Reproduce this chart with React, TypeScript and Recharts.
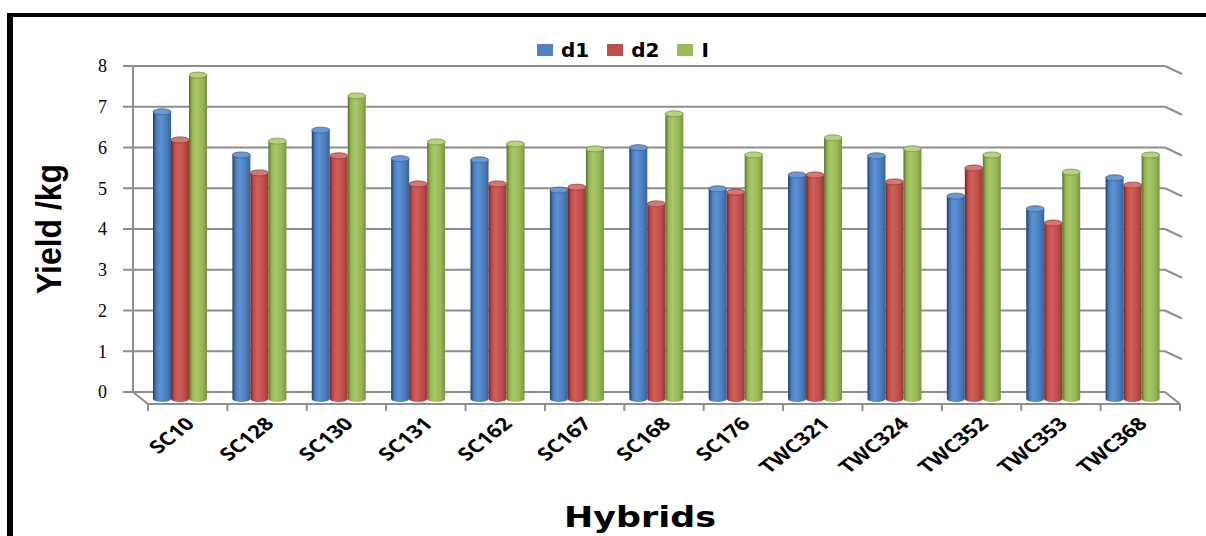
import React from 'react';
import { BarChart, Bar, XAxis, YAxis, CartesianGrid, Legend } from 'recharts';

// Hybrid names along the category axis
const categories = [
  'SC10', 'SC128', 'SC130', 'SC131', 'SC162', 'SC167', 'SC168',
  'SC176', 'TWC321', 'TWC324', 'TWC352', 'TWC353', 'TWC368',
];

// Yield (kg) per hybrid for each treatment
const d1Values = [6.95, 5.89, 6.5, 5.8, 5.77, 5.03, 6.07, 5.06, 5.4, 5.87, 4.88, 4.57, 5.33];
const d2Values = [6.26, 5.45, 5.87, 5.18, 5.18, 5.1, 4.69, 4.98, 5.4, 5.23, 5.57, 4.22, 5.15];
const iValues = [7.85, 6.23, 7.34, 6.21, 6.16, 6.04, 6.9, 5.89, 6.31, 6.04, 5.89, 5.47, 5.89];

const yTicks = [0, 1, 2, 3, 4, 5, 6, 7, 8];

const data = categories.map((name, i) => ({
  name,
  d1: d1Values[i],
  d2: d2Values[i],
  I: iValues[i],
}));

// Chart geometry
const W = 1206;
const H = 536;
const TOP = 66;
const RIGHT = 41;
const Y_AXIS_W = 133;
const X_AXIS_H = 144;
const PLOT_W = W - Y_AXIS_W - RIGHT;
const FLOOR_Y = H - X_AXIS_H;
const BAND = PLOT_W / categories.length;
// depth offset of the bars (mid-depth) and of the front edge of the floor
const BAR_DX = 7;
const BAR_DY = 7;
const FRONT_DX = 15;
const FRONT_DY = 12;

const GRID = '#8e8e8e';

type Tone = { key: string; base: string; dark: string; light: string; mid: string; top: string; edge: string };

const TONES: Record<string, Tone> = {
  d1: { key: 'd1', base: '#4f81bd', dark: '#1f3c66', light: '#5d93d6', mid: '#4a7dbd', top: '#6a9ad4', edge: '#3a6296' },
  d2: { key: 'd2', base: '#c0504d', dark: '#6e2422', light: '#d1605c', mid: '#c04c49', top: '#d77571', edge: '#963a38' },
  I: { key: 'I', base: '#9bbb59', dark: '#566f2a', light: '#a9c969', mid: '#97b656', top: '#b7d17f', edge: '#789440' },
};

function Cylinder(props: any) {
  const { x, y, width, height, index, tone } = props;
  if (x == null || y == null || !width || height == null) return null;
  const left = x + BAR_DX;
  const w = width;
  const rx = w / 2;
  const ry = 3;
  const top = y;
  const bottom = y + height + BAR_DY;
  const gid = `cyl-${tone.key}-${index}`;
  return (
    <g>
      <defs>
        <linearGradient id={gid} x1="0" y1="0" x2="1" y2="0">
          <stop offset="0%" stopColor={tone.dark} />
          <stop offset="18%" stopColor={tone.mid} />
          <stop offset="40%" stopColor={tone.light} />
          <stop offset="75%" stopColor={tone.mid} />
          <stop offset="100%" stopColor={tone.edge} />
        </linearGradient>
      </defs>
      <path
        d={`M ${left} ${top + ry} V ${bottom} A ${rx} ${ry} 0 0 0 ${left + w} ${bottom} V ${top + ry} Z`}
        fill={`url(#${gid})`}
      />
      <ellipse cx={left + rx} cy={top + ry} rx={rx} ry={ry} fill={tone.top} stroke={tone.edge} strokeWidth={0.8} />
    </g>
  );
}

function GridLine(props: any) {
  const { x1, y1, x2, y2 } = props;
  const isFloor = Math.abs(y1 - FLOOR_Y) < 1;
  return (
    <g key={props.key}>
      <line x1={x1} y1={y1} x2={x2} y2={y2} stroke={GRID} strokeWidth={2} />
      {isFloor ? (
        <g>
          <line x1={x1} y1={y1} x2={x1 + FRONT_DX} y2={y1 + FRONT_DY} stroke={GRID} strokeWidth={2} />
          <line x1={x1 + FRONT_DX} y1={y1 + FRONT_DY} x2={x2 + FRONT_DX} y2={y2 + FRONT_DY} stroke={GRID} strokeWidth={2} />
          <line x1={x2} y1={y2} x2={x2 + FRONT_DX} y2={y2 + FRONT_DY} stroke={GRID} strokeWidth={2} />
        </g>
      ) : (
        <line x1={x2} y1={y2} x2={x2 + 17} y2={y2 + 8} stroke={GRID} strokeWidth={2} />
      )}
    </g>
  );
}

function CategoryTick(props: any) {
  const { x, payload, index } = props;
  const cx = x + FRONT_DX;
  const fy = FLOOR_Y + FRONT_DY;
  const isLast = index === categories.length - 1;
  const ax = cx + 8;
  const ay = fy + 21;
  return (
    <g>
      <line x1={cx - BAND / 2} y1={fy} x2={cx - BAND / 2} y2={fy + 7} stroke={GRID} strokeWidth={2} />
      {isLast && <line x1={cx + BAND / 2} y1={fy} x2={cx + BAND / 2} y2={fy + 7} stroke={GRID} strokeWidth={2} />}
      <text
        x={0}
        y={0}
        textAnchor="end"
        transform={`translate(${ax} ${ay}) scale(1.25 1) rotate(-45)`}
        fontFamily="'Open Sans', 'DejaVu Sans', sans-serif"
        fontWeight={700}
        fontSize={18}
        fill="#000"
      >
        {payload.value}
      </text>
    </g>
  );
}

function LegendBox() {
  const items = [
    { label: 'd1', color: TONES.d1.base },
    { label: 'd2', color: TONES.d2.base },
    { label: 'I', color: TONES.I.base },
  ];
  return (
    <div style={{ display: 'flex', alignItems: 'center', fontFamily: "'DejaVu Sans', sans-serif", fontWeight: 700, fontSize: 20, color: '#000', lineHeight: '22px' }}>
      {items.map((it) => (
        <div key={it.label} style={{ display: 'flex', alignItems: 'center', marginRight: 18 }}>
          <span style={{ display: 'inline-block', width: 16, height: 12, background: it.color, marginRight: 8 }} />
          <span>{it.label}</span>
        </div>
      ))}
    </div>
  );
}

export default function App() {
  return (
    <div style={{ position: 'absolute', left: 0, top: 0, width: W, height: H, overflow: 'hidden', background: '#fff' }}>
      <div
        style={{
          position: 'absolute',
          left: 7,
          top: 13,
          width: W + 50,
          height: H + 50,
          borderTop: '4px solid #000',
          borderLeft: '6px solid #000',
          boxSizing: 'border-box',
        }}
      />
      <div style={{ position: 'absolute', left: 0, top: 0 }}>
        <BarChart
          width={W}
          height={H}
          data={data}
          margin={{ top: TOP, right: RIGHT, bottom: 0, left: 0 }}
          barGap={0}
          barSize={18}
        >
          <CartesianGrid vertical={false} horizontal={(p: any) => <GridLine {...p} />} />
          <XAxis
            dataKey="name"
            height={X_AXIS_H}
            axisLine={false}
            tickLine={false}
            interval={0}
            tick={(p: any) => <CategoryTick {...p} />}
            label={{
              content: () => (
                <text
                  x={640}
                  y={527}
                  textAnchor="middle"
                  textLength={152}
                  lengthAdjust="spacingAndGlyphs"
                  fontFamily="'DejaVu Sans', sans-serif"
                  fontWeight={700}
                  fontSize={28}
                  fill="#000"
                >
                  Hybrids
                </text>
              ),
            }}
          />
          <YAxis
            domain={[0, 8]}
            ticks={yTicks}
            width={Y_AXIS_W}
            tickSize={10}
            tickMargin={16}
            axisLine={{ stroke: GRID, strokeWidth: 2 }}
            tickLine={{ stroke: GRID, strokeWidth: 2 }}
            tick={{ fill: '#000', fontSize: 18, fontFamily: "'Liberation Serif', serif" }}
            label={{
              content: (lp: any) => {
                const vb = lp.viewBox || { x: 0, y: TOP, height: FLOOR_Y - TOP };
                const cx = vb.x + 48;
                const cy = vb.y + vb.height / 2;
                return (
                  <text
                    x={cx}
                    y={cy}
                    textAnchor="middle"
                    dominantBaseline="central"
                    transform={`rotate(-90 ${cx} ${cy})`}
                    textLength={130}
                    lengthAdjust="spacingAndGlyphs"
                    fontFamily="'Liberation Sans', sans-serif"
                    fontWeight={700}
                    fontSize={35}
                    fill="#000"
                  >
                    Yield /kg
                  </text>
                );
              },
            }}
          />
          <Legend
            verticalAlign="middle"
            align="center"
            layout="horizontal"
            content={() => <LegendBox />}
            wrapperStyle={{ position: 'absolute', top: 39, left: 537, width: 220, height: 24 }}
          />
          <Bar dataKey="d1" fill={TONES.d1.base} isAnimationActive={false} shape={(p: any) => <Cylinder {...p} tone={TONES.d1} />} />
          <Bar dataKey="d2" fill={TONES.d2.base} isAnimationActive={false} shape={(p: any) => <Cylinder {...p} tone={TONES.d2} />} />
          <Bar dataKey="I" fill={TONES.I.base} isAnimationActive={false} shape={(p: any) => <Cylinder {...p} tone={TONES.I} />} />
        </BarChart>
      </div>
    </div>
  );
}
